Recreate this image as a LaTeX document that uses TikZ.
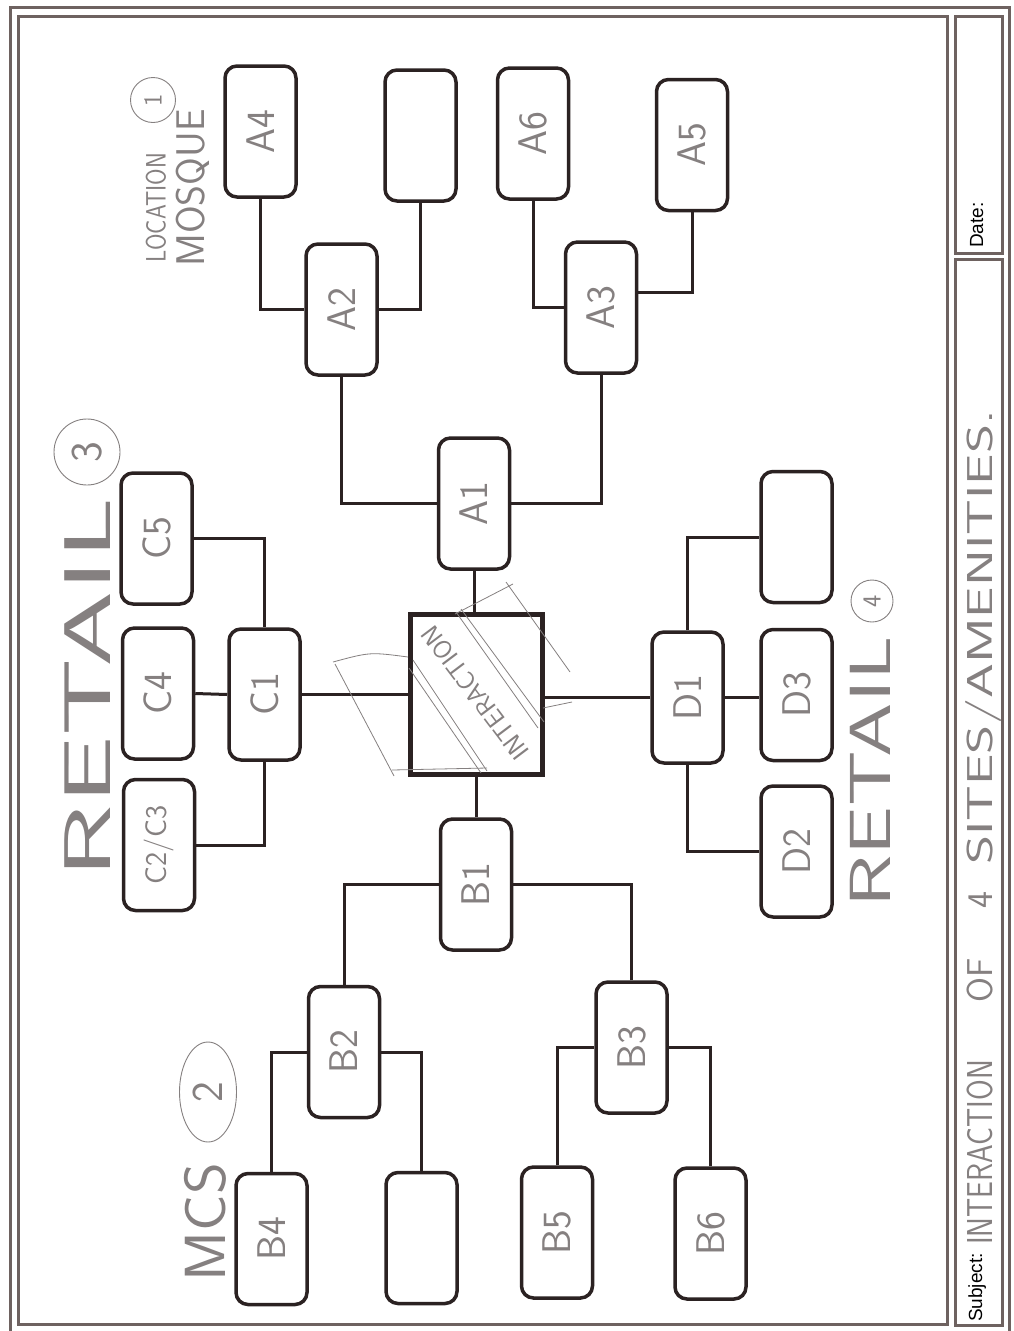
\documentclass[tikz,border=0pt]{standalone}
\usepackage{fontspec}
\usepackage{graphicx}
\usepackage{tikz}
\usetikzlibrary{positioning,shapes.geometric}
\newfontfamily\formfont{Liberation Sans}
\definecolor{ink}{HTML}{2B2222}
\definecolor{pencil}{HTML}{858080}
\definecolor{rule}{HTML}{6E6260}

\begin{document}
\begin{tikzpicture}[x=1pt, y=-1pt,
  box/.style={draw=ink, line width=3.5pt, rounded corners=12pt, minimum width=71pt,
    minimum height=131pt, inner sep=0pt, text=pencil, font=\sffamily\fontsize{40}{40}\selectfont},
  hub/.style={draw=ink, line width=5pt, minimum width=132pt, minimum height=160pt, inner sep=0pt},
  link/.style={draw=ink, line width=3pt},
  frame/.style={draw=rule, line width=3pt},
  hand/.style={text=pencil, inner sep=0pt},
  ring/.style={draw=pencil, line width=0.9pt, circle, inner sep=0pt, text=pencil},
  sketch/.style={draw=pencil, line width=0.8pt}]

  \useasboundingbox[fill=white] (0,0) rectangle (1013,1331);

  % Form frame and title block
  \draw[frame] (10,1331) -- (10,7) -- (1009,7) -- (1009,1331);
  \draw[frame] (18,16) rectangle (947,1324);
  \draw[frame] (955,16) rectangle (1002,253);
  \draw[frame] (955,259) rectangle (1002,1325);
  \node[rotate=90, anchor=base west, inner sep=0pt, font=\formfont\fontsize{19}{19}\selectfont] (subj) at (982,1322) {Subject:};
  \node[rotate=90, anchor=base west, inner sep=0pt, font=\formfont\fontsize{19}{19}\selectfont] (date) at (983,248) {Date:};

  % Central box
  \node[hub] (I) at (476.5,694.5) {};

  % Boxes of the four sites
  \foreach \name/\x/\y/\txt in {
    A1/474/503.5/A1,
    A2/341.5/309.5/A2,
    A3/601/307.5/A3,
    A4/260.5/131.5/A4,
    Ablank/420.5/135.5/,
    A6/533/133.5/A6,
    A5/692/145/A5,
    B1/476/884.5/B1,
    B2/344/1052/B2,
    B3/631.5/1047.5/B3,
    B4/271.5/1239/B4,
    Bblank/421.5/1238/,
    B5/557/1232.5/B5,
    B6/710.5/1233.5/B6,
    C1/264.5/694.5/C1,
    C4/158/693.5/C4,
    C5/156.5/538.5/C5,
    D1/687.5/697.5/D1,
    D2/796.5/851.5/D2,
    D3/796.5/695/D3,
    Dblank/796.5/537/}
    \node[box] (\name) at (\x,\y) {\rotatebox{90}{\txt}};
  \node[box, font=\sffamily\fontsize{30}{30}\selectfont] (C23) at (159,845) {\rotatebox{90}{C2/C3}};

  % Connectors, site A
  \draw[link] (A1.south) -- (A1.south |- I.north);
  \draw[link] (A2.south) |- (A1.west);
  \draw[link] (A3.south) |- (A1.east);
  \draw[link] (A4.south) |- (A2.west);
  \draw[link] (Ablank.south) |- (A2.east);
  \draw[link] (A6.south) |- (A3.west);
  \draw[link] (A5.south) |- ([yshift=15pt]A3.east);

  % Connectors, site B
  \draw[link] (B1.north) -- (B1.north |- I.south);
  \draw[link] (B2.north) |- (B1.west);
  \draw[link] (B3.north) |- (B1.east);
  \draw[link] (B4.north) |- (B2.west);
  \draw[link] (Bblank.north) |- (B2.east);
  \draw[link] (B5.north) |- (B3.west);
  \draw[link] (B6.north) |- (B3.east);

  % Connectors, site C
  \draw[link] (C1.east) -- (C1.east -| I.west);
  \draw[link] (C4.east) -- (C1.west);
  \draw[link] (C5.east) -| (C1.north);
  \draw[link] (C23.east) -| (C1.south);

  % Connectors, site D
  \draw[link] (D1.west) -- (D1.west -| I.east);
  \draw[link] (D1.east) -- (D1.east -| D3.west);
  \draw[link] (D1.north) |- (Dblank.west);
  \draw[link] (D1.south) |- (D2.west);

  % Pencil sketch over the central box
  \draw[sketch] (333,662) .. controls (370,652) .. (408,657);
  \draw[sketch] (335,664) -- (394,776);
  \draw[sketch] (392,770) -- (487,768);
  \draw[sketch] (456,612) -- (538,728);
  \draw[sketch] (461,609) -- (544,722);
  \draw[sketch] (413,660) -- (487,771);
  \draw[sketch] (409,668) -- (481,773);
  \draw[sketch] (455,614) -- (513,584);
  \draw[sketch] (506,582) -- (570,672);
  \draw[sketch] (543,708) -- (572,702);
  \node[hand, rotate=127, font=\sffamily\fontsize{26}{26}\selectfont] (itext) at (475,693) {INTERACTION};

  % Site names
  \node[hand, rotate=90, xscale=0.85, font=\sffamily\fontsize{28}{28}\selectfont] (loc) at (156,208) {LOCATION};
  \node[ring, rotate=90, minimum size=45pt, font=\sffamily\fontsize{26}{26}\selectfont] (loc1) at (153,100) {1};
  \node[hand, rotate=90, font=\sffamily\fontsize{40}{40}\selectfont] (mosque) at (193,188) {MOSQUE};
  \node[hand, rotate=90, xscale=1.85, font=\sffamily\fontsize{66}{66}\selectfont] (ret3) at (88,688) {RETAIL};
  \node[ring, rotate=90, minimum size=66pt, font=\sffamily\fontsize{44}{44}\selectfont] (ret3n) at (87,452) {3};
  \node[hand, rotate=90, xscale=1.05, font=\sffamily\fontsize{58}{58}\selectfont] (mcs) at (205,1222) {MCS};
  \node[ring, ellipse, rotate=90, minimum width=100pt, minimum height=57pt, font=\sffamily\fontsize{44}{44}\selectfont] (mcs2) at (208,1092) {2};
  \node[hand, rotate=90, xscale=1.5, font=\sffamily\fontsize{58}{58}\selectfont] (ret4) at (870,772) {RETAIL};
  \node[ring, rotate=90, minimum size=42pt, font=\sffamily\fontsize{26}{26}\selectfont] (ret4n) at (872,601) {4};

  % Subject line
  \node[hand, rotate=90, anchor=base west, xscale=0.83, font=\sffamily\fontsize{36}{36}\selectfont] (s1) at (992,1245) {INTERACTION};
  \node[hand, rotate=90, anchor=base, font=\sffamily\fontsize{36}{36}\selectfont] (s2) at (992,980) {OF};
  \node[hand, rotate=90, anchor=base, font=\sffamily\fontsize{36}{36}\selectfont] (s3) at (992,900) {4};
  \node[hand, rotate=90, anchor=base west, xscale=1.55, font=\sffamily\fontsize{36}{36}\selectfont] (s4) at (992,865) {SITES/AMENITIES.};

\end{tikzpicture}
\end{document}
